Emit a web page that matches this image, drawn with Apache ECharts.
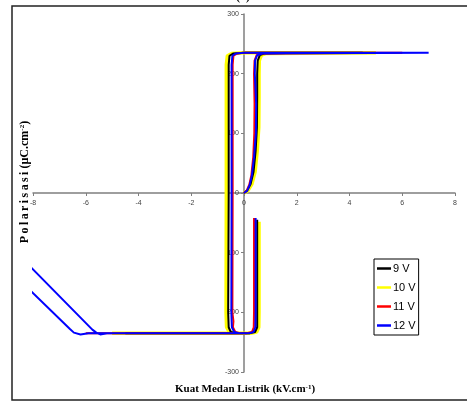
<!DOCTYPE html>
<html>
<head>
<meta charset="utf-8">
<script src="https://cdn.jsdelivr.net/npm/echarts@6.0.0/dist/echarts.min.js"></script>
<style>
html,body{margin:0;padding:0;background:#fff;}
#chart{width:467px;height:404px;}
</style>
</head>
<body>
<div id="chart"></div>
<script>
// Legend names
var seriesNames = ['9 V', '10 V', '11 V', '12 V'];
// Axis ticks
var xTicks = { min: -8, max: 8, step: 2 };
var yTicks = { min: -300, max: 300, step: 100 };

// Hysteresis loops: [E (kV/cm), P (uC/cm2)]
var loop9V = [[0,0],[0.12,4],[0.25,15],[0.36,35],[0.44,70],[0.49,110],[0.5,160],[0.5,200],[0.52,222],[0.6,231],[0.8,234],[2,235],[4.5,235],
  [2,235],[0,235],[-0.4,234],[-0.55,230],[-0.58,215],[-0.58,100],[-0.58,0],[-0.59,-100],[-0.6,-200],[-0.58,-225],[-0.5,-233],[-0.3,-235],[-4.5,-235],
  [0.2,-235],[0.42,-233],[0.5,-225],[0.5,-200],[0.5,-100],[0.5,-45]];
var loop10V = [[0,0],[0.15,4],[0.3,15],[0.42,35],[0.5,70],[0.56,110],[0.57,160],[0.57,200],[0.58,222],[0.66,231],[0.85,234],[5,235],
  [0,235],[-0.45,234],[-0.63,230],[-0.67,215],[-0.67,0],[-0.68,-200],[-0.66,-225],[-0.56,-233],[-0.35,-235],[-5,-235],
  [0.25,-235],[0.48,-233],[0.56,-225],[0.57,-200],[0.57,-100],[0.57,-48]];
var loop11V = [[0,0],[0.1,4],[0.2,14],[0.28,30],[0.35,60],[0.39,100],[0.4,150],[0.38,200],[0.4,222],[0.48,231],[0.7,234],[6,235],
  [0,235],[-0.25,234],[-0.4,230],[-0.43,215],[-0.43,0],[-0.44,-200],[-0.4,-215],[-0.42,-225],[-0.33,-233],[-0.15,-235],[-6,-235],
  [0.1,-235],[0.3,-233],[0.37,-225],[0.38,-200],[0.38,-100],[0.38,-42]];
var loop12V = [[0,0],[0.12,4],[0.22,14],[0.3,30],[0.38,60],[0.45,100],[0.46,150],[0.41,200],[0.42,222],[0.5,231],[0.72,234],[7,235],
  [0,235],[-0.3,234],[-0.44,230],[-0.47,215],[-0.47,0],[-0.48,-200],[-0.46,-225],[-0.37,-233],[-0.2,-235],[-5.9,-235],[-6.2,-237],[-6.45,-234],[-6.6,-228],[-9,-125],
  [-9,-83],[-5.75,-229],[-5.6,-234],[-5.45,-237],[-5.2,-235],[0.2,-235],[0.36,-233],[0.43,-225],[0.44,-200],[0.44,-100],[0.44,-42]];

var chart = echarts.init(document.getElementById('chart'));
var axisColor = '#7f7f7f';
var labelStyle = { fontFamily: 'Arial, Liberation Sans, sans-serif', fontSize: 7, color: '#444' };
var gridH = 358, gridW = 422;
var ts = '\u2009';

chart.setOption({
  animation: false,
  grid: { left: 33, top: 14, width: gridW, height: gridH, containLabel: false },
  xAxis: {
    type: 'value', min: xTicks.min, max: xTicks.max, interval: xTicks.step,
    position: 'bottom', offset: -gridH / 2,
    axisLine: { onZero: false, lineStyle: { color: axisColor, width: 1.5 } },
    axisTick: { show: true, length: 3, lineStyle: { color: axisColor, width: 1 } },
    axisLabel: Object.assign({ margin: 7, showMinLabel: true, showMaxLabel: true }, labelStyle),
    splitLine: { show: false }
  },
  yAxis: {
    type: 'value', min: yTicks.min, max: yTicks.max, interval: yTicks.step,
    position: 'left', offset: -gridW / 2,
    axisLine: { onZero: false, lineStyle: { color: axisColor, width: 1.5 } },
    axisTick: { show: true, length: 3, lineStyle: { color: axisColor, width: 1 } },
    axisLabel: Object.assign({ margin: 5, showMinLabel: true, showMaxLabel: true }, labelStyle),
    splitLine: { show: false }
  },
  legend: {
    orient: 'vertical', left: 374, top: 259,
    data: seriesNames.map(function (n) { return { name: n, icon: 'rect' }; }),
    itemWidth: 14, itemHeight: 2.5, itemGap: 8,
    padding: [4, 3, 4, 3],
    backgroundColor: '#fff', borderColor: '#000', borderWidth: 1,
    textStyle: { fontFamily: 'Arial, Liberation Sans, sans-serif', fontSize: 11, color: '#000', padding: [0,0,0,-3] }
  },
  graphic: [
    { type: 'rect', shape: { x: 12, y: 6, width: 470, height: 394 }, style: { fill: 'none', stroke: '#222', lineWidth: 1.5 }, z: 100, silent: true },
    { type: 'text', x: 243, y: 3, style: { text: '(a)', font: 'bold 12px "Liberation Serif", serif', fill: '#000', align: 'center', verticalAlign: 'bottom' } },
    { type: 'text', x: 25, y: 182, rotation: Math.PI / 2,
      style: { text: ['P','o','l','a','r','i','s','a','s','i'].join(ts) + ' (µC.cm{sup|-2})', font: 'bold 12px "Liberation Serif", serif', fill: '#000', align: 'center', verticalAlign: 'middle',
        rich: { sup: { font: 'bold 7px "Liberation Serif", serif', verticalAlign: 'top', fill: '#000' } } } },
    { type: 'text', x: 245, y: 389,
      style: { text: 'Kuat Medan Listrik (kV.cm{sup|-1})', font: 'bold 11px "Liberation Serif", serif', fill: '#000', align: 'center', verticalAlign: 'middle',
        rich: { sup: { font: 'bold 7px "Liberation Serif", serif', verticalAlign: 'top', fill: '#000' } } } }
  ],
  series: [
    { name: seriesNames[0], type: 'line', data: loop9V, showSymbol: false, symbol: 'none', z: 3, lineStyle: { color: '#000', width: 2 }, itemStyle: { color: '#000' } },
    { name: seriesNames[1], type: 'line', data: loop10V, showSymbol: false, symbol: 'none', z: 2, lineStyle: { color: '#ffff00', width: 3.5 }, itemStyle: { color: '#ffff00' } },
    { name: seriesNames[2], type: 'line', data: loop11V, showSymbol: false, symbol: 'none', z: 4, lineStyle: { color: '#ff0000', width: 2 }, itemStyle: { color: '#ff0000' } },
    { name: seriesNames[3], type: 'line', data: loop12V, showSymbol: false, symbol: 'none', z: 5, lineStyle: { color: '#0000ff', width: 2 }, itemStyle: { color: '#0000ff' } }
  ]
});
</script>
</body>
</html>
